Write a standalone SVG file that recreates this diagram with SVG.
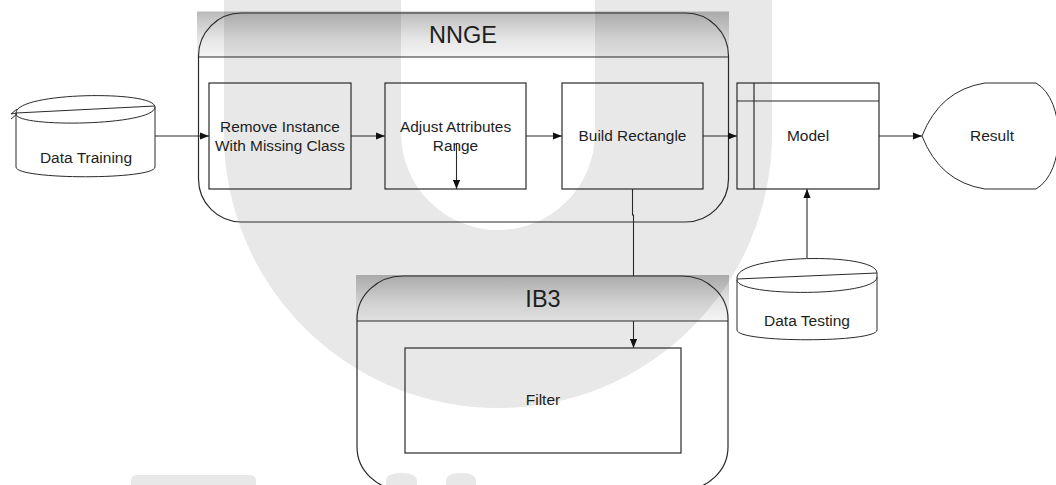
<svg xmlns="http://www.w3.org/2000/svg" width="1056" height="485" viewBox="0 0 1056 485">
<style>
.ln{fill:none;stroke:#2a2a2a;stroke-width:1}
.bx{fill:none;stroke:#2a2a2a;stroke-width:1.2}
.t{font-family:"Liberation Sans",Arial,sans-serif;fill:#1e1e1e;text-anchor:middle}
.s14{font-size:15.4px}
.s15{font-size:15.5px}
.s23{font-size:23.5px}
.wm{fill:#e8e8e8}
.con{fill:none;stroke:#2a2a2a;stroke-width:1.1}
</style>
<defs>
<linearGradient id="hdr" x1="0" y1="0" x2="0" y2="1">
<stop offset="0" stop-color="#000" stop-opacity="0.27"/>
<stop offset="0.6" stop-color="#000" stop-opacity="0.1"/>
<stop offset="1" stop-color="#000" stop-opacity="0.04"/>
</linearGradient>
<marker id="ah" viewBox="0 0 10 8" refX="10" refY="4" markerWidth="9" markerHeight="7.5" orient="auto" markerUnits="userSpaceOnUse">
<path d="M0,0 L10,4 L0,8 Z" fill="#111"/>
</marker>
</defs>
<rect width="1056" height="485" fill="#fff"/>
<g id="watermark">
<path class="wm" d="M224,0 V134 A274,274 0 0 0 772,134 V0 H595 V133 A97,97 0 0 1 401,133 V0 Z"/>
<path class="wm" d="M131,485 V481 Q131,475 137,475 H250 Q256,475 256,481 V485 Z"/>
<path class="wm" d="M386,485 V481 Q386,473 401,473 Q417,473 417,481 V485 Z"/>
<path class="wm" d="M446,485 V481 Q446,473 461,473 Q476,473 476,481 V485 Z"/>
</g>
<g id="nnge">
<rect x="197" y="11.5" width="532" height="45.5" fill="url(#hdr)"/>
<rect class="bx" x="198.5" y="13" width="530" height="209" rx="43" ry="43"/>
<line class="bx" x1="198.5" y1="57" x2="728.5" y2="57"/>
<text class="t s23" x="463" y="43">NNGE</text>
</g>
<g id="ib3">
<rect x="356" y="275" width="373" height="46" fill="url(#hdr)"/>
<rect class="bx" x="357" y="276" width="371" height="214" rx="46" ry="43"/>
<line class="bx" x1="357" y1="321" x2="728" y2="321"/>
<text class="t s23" x="543" y="307">IB3</text>
</g>
<g id="data-training">
<path class="ln" d="M16,113 C16,92 155,90 155,107 M16,113 L155,106 M16,114 C16,128 155,126 155,107 M16,113 V167 M155,107 V167 M16,167 C16,180 155,180 155,167"/>
<path class="ln" d="M17,109 L11,114 L17,113 M11,119 L17,114"/>
<text class="t s15" x="86" y="163">Data Training</text>
</g>
<g id="remove-instance">
<rect class="bx" x="209" y="83" width="142" height="106"/>
<text class="t s14" x="280" y="132">Remove Instance</text>
<text class="t s14" x="280" y="151">With Missing Class</text>
</g>
<g id="adjust-attributes">
<rect class="bx" x="385" y="83" width="141" height="106"/>
<text class="t s14" x="455.5" y="132">Adjust Attributes</text>
<text class="t s14" x="455.5" y="151">Range</text>
</g>
<g id="build-rectangle">
<rect class="bx" x="562" y="83" width="141" height="106"/>
<text class="t s14" x="632.5" y="141">Build Rectangle</text>
</g>
<g id="model">
<rect class="bx" x="737" y="83" width="142" height="106"/>
<line class="bx" x1="754" y1="83" x2="754" y2="189"/>
<line class="bx" x1="737" y1="101" x2="879" y2="101"/>
<text class="t s15" x="808" y="141">Model</text>
</g>
<g id="result">
<path class="ln" d="M922,136 Q940,90 985,83 L1036,83 C1066,100 1066,172 1036,189 L985,189 Q940,182 922,136 Z"/>
<text class="t s15" x="992" y="141">Result</text>
</g>
<g id="data-testing">
<path class="ln" d="M737,278 C737,254 877,252 877,273 M737,279 L877,273 M737,280 C737,297 877,297 877,277 M737,278 V330 M877,273 V330 M737,330 C737,343 877,343 877,330"/>
<text class="t s15" x="807" y="326">Data Testing</text>
</g>
<g id="filter">
<rect class="bx" x="405" y="348" width="276" height="105"/>
<text class="t s15" x="543" y="405">Filter</text>
</g>
<g id="connectors">
<path class="con" d="M155,136 H209" marker-end="url(#ah)"/>
<path class="con" d="M351,136 H385" marker-end="url(#ah)"/>
<path class="con" d="M526,136 H562" marker-end="url(#ah)"/>
<path class="con" d="M703,136 H737" marker-end="url(#ah)"/>
<path class="con" d="M879,136 H922" marker-end="url(#ah)"/>
<path class="con" d="M807,258 V189" marker-end="url(#ah)"/>
<path class="con" d="M456.5,143 V189" marker-end="url(#ah)"/>
<path class="con" d="M632.5,189 V215 H633.5 V276"/>
<path class="con" d="M633.5,321 V348" marker-end="url(#ah)"/>
</g>
</svg>
